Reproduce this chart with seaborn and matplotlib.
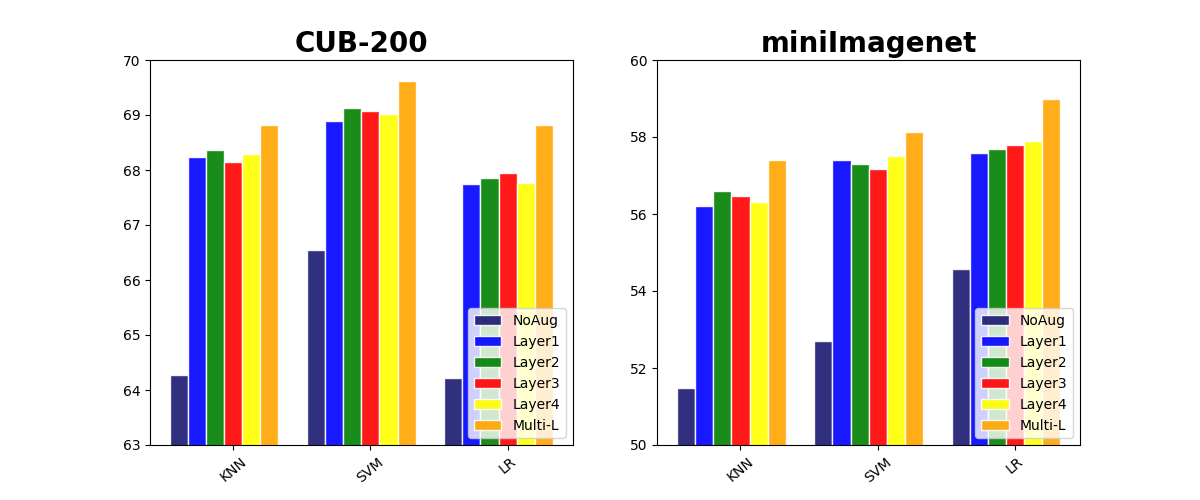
import numpy as np
import pandas as pd
import seaborn as sns
from matplotlib import pyplot as plt

classifiers = ['KNN', 'SVM', 'LR']
methods = ['NoAug', 'Layer1', 'Layer2', 'Layer3', 'Layer4', 'Multi-L']
colors = ['midnightblue', 'blue', 'green', 'red', 'yellow', 'orange']

# dogruluk degerleri (her satir bir yontem, sutunlar KNN, SVM, LR)
cub_noaug = [64.28, 66.54, 64.21]
cub_layer1 = [68.23, 68.89, 67.74]
cub_layer2 = [68.36, 69.12, 67.85]
cub_layer3 = [68.15, 69.08, 67.94]
cub_layer4 = [68.30, 69.01, 67.76]
cub_multi = [68.81, 69.61, 68.81]

mini_noaug = [51.49, 52.71, 54.58]
mini_layer1 = [56.20, 57.39, 57.59]
mini_layer2 = [56.59, 57.29, 57.68]
mini_layer3 = [56.48, 57.18, 57.78]
mini_layer4 = [56.30, 57.50, 57.89]
mini_multi = [57.39, 58.12, 58.98]


def long_df(rows):
    recs = []
    for m, vals in zip(methods, rows):
        for c, v in zip(classifiers, vals):
            recs.append({'clf': c, 'method': m, 'acc': v})
    return pd.DataFrame(recs)


cub = long_df([cub_noaug, cub_layer1, cub_layer2, cub_layer3, cub_layer4, cub_multi])
mini = long_df([mini_noaug, mini_layer1, mini_layer2, mini_layer3, mini_layer4, mini_multi])

w = 0.132
fig, axes = plt.subplots(1, 2, figsize=(12, 5), dpi=100)

for ax, df, title, ylim, step in [(axes[0], cub, 'CUB-200', (63, 70), 1),
                                  (axes[1], mini, 'miniImagenet', (50, 60), 2)]:
    sns.barplot(data=df, x='clf', y='acc', hue='method', hue_order=methods,
                palette=colors, saturation=1, alpha=0.9, width=w * 6,
                edgecolor='white', linewidth=1, ax=ax)
    ax.set_ylim(*ylim)
    ax.set_yticks(np.arange(ylim[0], ylim[1] + 1, step))
    ax.set_xlim(-0.54, 2.54)
    ax.set_xticks(np.arange(3) + w / 2, classifiers, rotation=40)
    ax.set_xlabel('')
    ax.set_ylabel('')
    ax.set_title(title, fontsize=20, fontweight='bold')
    ax.legend(loc='lower right', fontsize=10)

plt.savefig('out.png')
